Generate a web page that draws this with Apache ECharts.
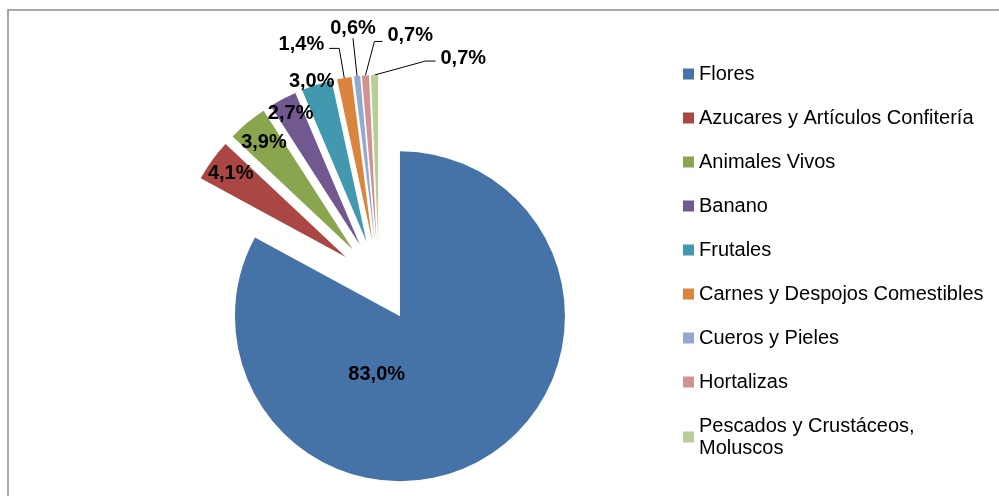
<!DOCTYPE html>
<html>
<head>
<meta charset="utf-8">
<script src="https://cdn.jsdelivr.net/npm/echarts@6/dist/echarts.min.js"></script>
<style>
  html, body { margin: 0; padding: 0; background: #fff; }
  #chart { width: 999px; height: 496px; }
</style>
</head>
<body>
<div id="chart"></div>
<script>
  // datos
  const productos = ['Flores', 'Azucares y Artículos Confitería', 'Animales Vivos', 'Banano', 'Frutales',
    'Carnes y Despojos Comestibles', 'Cueros y Pieles', 'Hortalizas', 'Pescados y Crustáceos, Moluscos']
  const participacion = [83.0, 4.1, 3.9, 2.7, 3.0, 1.4, 0.6, 0.7, 0.7]
  const colores = ['#4572A7', '#AA4643', '#89A54E', '#71588F', '#4198AF', '#DB843D', '#93A9CF', '#D19392', '#B9CD96']

  // como se coloca cada etiqueta (imitando Excel)
  const etiquetas = [
    { pos: 'inside', layout: { dx: -67, dy: -15 } },
    { line: false, len: -23, layout: { align: 'center' } },
    { line: false, len: -26, layout: { align: 'center' } },
    { line: false, len: -17, layout: { align: 'center' } },
    { line: false, len: 3, layout: { align: 'center', dx: -4 } },
    { line: true, len: 30, len2: 10, dist: 5, layout: { dy: -4 } },
    { line: true, len: 38, len2: 0, dist: 0, layout: { align: 'center', verticalAlign: 'bottom' } },
    { line: true, len: 0, len2: 0, dist: 0, layout: { align: 'left', dx: 22, dy: -40 }, guide: [[9, -34], [17, -34]] },
    { line: true, len: 0, len2: 0, dist: 0, layout: { align: 'left', dx: 66, dy: -17 }, guide: [[51, -14], [61, -14]] }
  ]

  const font = '"Liberation Sans", Arial, sans-serif'
  const chart = echarts.init(document.getElementById('chart'))

  chart.setOption({
    animation: false,
    graphic: [{
      type: 'rect',
      shape: { x: 8, y: 10, width: 1200, height: 800 },
      style: { fill: 'none', stroke: '#8c8c8c', lineWidth: 1.5 },
      silent: true
    }],
    legend: {
      orient: 'vertical',
      left: 683,
      top: 63,
      padding: 0,
      icon: 'rect',
      itemWidth: 11,
      itemHeight: 11,
      itemGap: 22,
      selectedMode: false,
      formatter: name => name.replace(', ', ',\n'),
      textStyle: { fontFamily: font, fontSize: 20, color: '#000', lineHeight: 22 }
    },
    series: [{
      type: 'pie',
      center: [379, 281],
      radius: 165,
      startAngle: 90,
      clockwise: true,
      selectedMode: 'multiple',
      selectedOffset: 41,
      avoidLabelOverlap: false,
      emphasis: { disabled: true },
      itemStyle: { borderWidth: 0 },
      label: {
        fontFamily: font,
        fontSize: 20,
        fontWeight: 'bold',
        color: '#000',
        formatter: p => p.value.toFixed(1).replace('.', ',') + '%'
      },
      labelLine: { lineStyle: { color: '#000', width: 1 } },
      data: productos.map((nombre, i) => {
        const e = etiquetas[i]
        return {
          name: nombre,
          value: participacion[i],
          selected: true,
          itemStyle: { color: colores[i] },
          label: e.pos === 'inside'
            ? { position: 'inside' }
            : { position: 'outside', distanceToLabelLine: e.dist || 0 },
          labelLine: e.pos === 'inside'
            ? { show: false }
            : { show: e.line, length: e.len, length2: e.len2 || 0 }
        }
      }),
      labelLayout: p => {
        const e = etiquetas[p.dataIndex]
        const out = Object.assign({}, e.layout)
        if (e.guide && p.labelLinePoints) {
          const s = p.labelLinePoints[0]
          out.labelLinePoints = [s.slice(), [s[0] + e.guide[0][0], s[1] + e.guide[0][1]], [s[0] + e.guide[1][0], s[1] + e.guide[1][1]]]
        }
        return out
      }
    }]
  })
</script>
</body>
</html>
